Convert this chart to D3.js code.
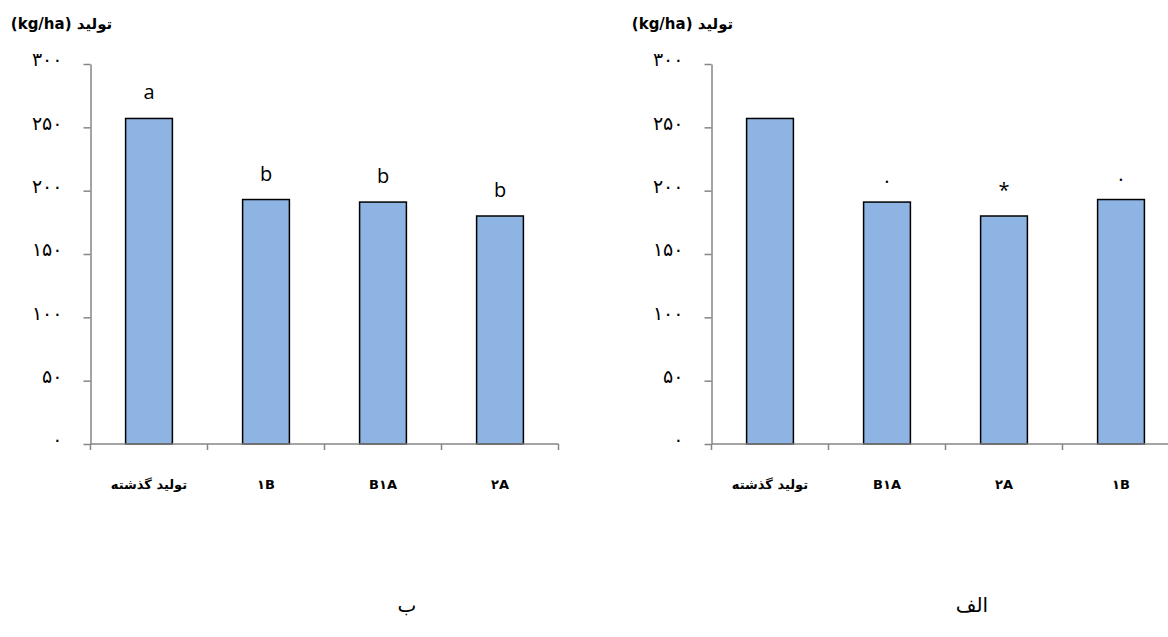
<!DOCTYPE html>
<html>
<head>
<meta charset="utf-8">
<script src="https://cdn.jsdelivr.net/npm/d3@7"></script>
<style>
  body { margin: 0; background: #fff; }
  svg { display: block; }
</style>
</head>
<body>
<div id="chart"></div>
<script>

// data
const leftCats = ["تولید گذشته", "۱B", "B۱A", "۲A"];
const leftValues = [257, 193, 191, 180];
const leftMarks = ["a", "b", "b", "b"];

const rightCats = ["تولید گذشته", "B۱A", "۲A", "۱B"];
const rightValues = [257, 191, 180, 193];
const rightMarks = ["", ".", "*", "."];

const yTicks = [0, 50, 100, 150, 200, 250, 300];
const yTitle = "تولید (kg/ha)";
const captions = ["ب", "الف"];

const width = 1168;
const height = 637;

const svg = d3.select("#chart")
    .append("svg")
    .attr("width", width)
    .attr("height", height);

// persian digits
function fa(n) {
    return String(n).replace(/\d/g, c => "۰۱۲۳۴۵۶۷۸۹"[c]);
}

function drawPanel(x0, cats, values, marks, caption, captionX) {

    const g = svg.append("g");

    let y_scale = d3.scaleLinear()
        .domain([0, 300])
        .range([444, 64]);

    let x_scale = d3.scaleBand()
        .domain(cats)
        .range([x0, x0 + cats.length * 117])
        .paddingInner(0.6)
        .paddingOuter(0.3);

    // y axis
    let y_axis = d3.axisLeft(y_scale)
        .tickValues(yTicks)
        .tickFormat(fa)
        .tickSize(7)
        .tickSizeOuter(0)
        .tickPadding(21);

    const ya = g.append("g")
        .attr("class", "y_axis")
        .attr("transform", `translate(${x0}, 0)`)
        .call(y_axis);

    ya.select(".domain").attr("stroke", "#868686").attr("stroke-width", 1.5);
    ya.selectAll(".tick line").attr("stroke", "#868686").attr("stroke-width", 1.5);
    ya.selectAll(".tick text")
        .attr("font-family", "DejaVu Sans")
        .attr("font-size", 19)
        .attr("letter-spacing", 2)
        .attr("fill", "#000")
        .attr("dy", "0.1em");

    // bars
    g.selectAll("rect")
        .data(values)
        .enter()
        .append("rect")
        .attr("x", (d, i) => x_scale(cats[i]))
        .attr("y", d => y_scale(d))
        .attr("width", x_scale.bandwidth())
        .attr("height", d => y_scale(0) - y_scale(d))
        .attr("fill", "#8EB4E3")
        .attr("stroke", "#000")
        .attr("stroke-width", 1.5);

    // x axis line and category boundary ticks
    const base = y_scale(0);
    const xEnd = x0 + cats.length * x_scale.step();
    g.append("line")
        .attr("x1", x0).attr("x2", xEnd)
        .attr("y1", base).attr("y2", base)
        .attr("stroke", "#868686")
        .attr("stroke-width", 1.5);

    g.selectAll(".xtick")
        .data(d3.range(cats.length + 1))
        .enter()
        .append("line")
        .attr("class", "xtick")
        .attr("x1", i => x0 + i * x_scale.step())
        .attr("x2", i => x0 + i * x_scale.step())
        .attr("y1", base)
        .attr("y2", base + 6)
        .attr("stroke", "#868686")
        .attr("stroke-width", 1.5);

    // category labels
    g.selectAll(".xlab")
        .data(cats)
        .enter()
        .append("text")
        .attr("class", "xlab")
        .attr("x", d => x_scale(d) + x_scale.bandwidth() / 2)
        .attr("y", 489)
        .attr("text-anchor", "middle")
        .attr("direction", "ltr")
        .attr("font-family", "DejaVu Sans")
        .attr("font-weight", "bold")
        .attr("font-size", 13)
        .text(d => d);

    // significance marks above bars
    g.selectAll(".mark")
        .data(marks)
        .enter()
        .append("text")
        .attr("class", "mark")
        .attr("x", (d, i) => x_scale(cats[i]) + x_scale.bandwidth() / 2)
        .attr("y", (d, i) => y_scale(values[i]) - 19)
        .attr("text-anchor", "middle")
        .attr("font-family", "Open Sans")
        .attr("font-size", 20)
        .text(d => d);

    // title over y axis
    g.append("text")
        .attr("x", x0 - 29)
        .attr("y", 29)
        .attr("text-anchor", "middle")
        .attr("direction", "rtl")
        .attr("font-family", "DejaVu Sans")
        .attr("font-weight", "bold")
        .attr("font-size", 15)
        .text(yTitle);

    // panel caption
    g.append("text")
        .attr("x", captionX)
        .attr("y", 612)
        .attr("text-anchor", "middle")
        .attr("font-family", "DejaVu Sans")
        .attr("font-size", 20)
        .text(caption);
}

drawPanel(90.5, leftCats, leftValues, leftMarks, captions[0], 407);
drawPanel(711.5, rightCats, rightValues, rightMarks, captions[1], 972);

</script>
</body>
</html>
